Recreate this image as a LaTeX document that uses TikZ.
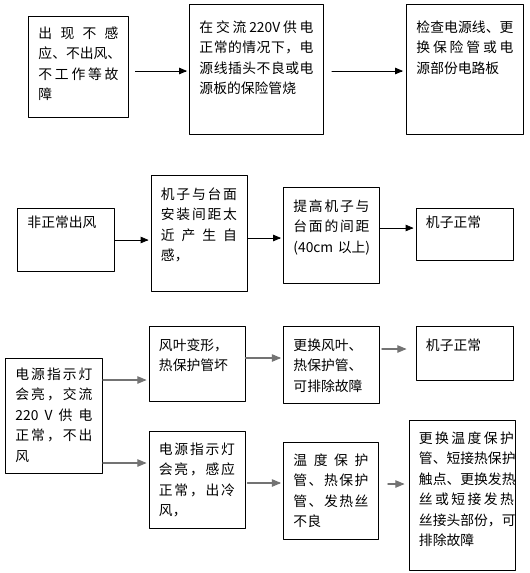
\documentclass[tikz,border=0pt]{standalone}
\usepackage{fontspec}
\newfontfamily\cjk{Noto Sans CJK SC}
\usepackage{tikz}
\usetikzlibrary{arrows}
\makeatletter
\newcommand\spreadline[2][\linewidth]{\leavevmode\hbox to #1{\@tfor\spreadch:=#2\do{\spreadch\hfil}\unskip}}
\makeatother
\tikzset{
  flowbox/.style={draw,line width=0.9pt,anchor=north west,align=left,inner xsep=10pt,inner ysep=0pt,
    font=\cjk\fontsize{13.8}{20.5}\selectfont},
  link/.style={->,line width=0.8pt,shorten >=2pt},
  greylink/.style={->,line width=1.1pt,color=black!55,shorten >=2pt}
}

\begin{document}
\begin{tikzpicture}[line cap=round,line join=round,>=triangle 45,x=1pt,y=-1pt]
        \useasboundingbox (0,0) rectangle (530,573);
        % row 1
        \node[flowbox,text width=80pt,text height=22pt,text depth=79pt] (a1) at (28,16)
          {\spreadline{出现不感}\\\spreadline{应、不出风、}\\\spreadline{不工作等故}\\障};
        \node[flowbox,text width=114pt,text height=28pt,text depth=102pt] (a2) at (189,4)
          {\spreadline{在交流{220V}供电}\\\spreadline{正常的情况下，电}\\\spreadline{源线插头不良或电}\\源板的保险管烧};
        \node[flowbox,text width=97pt,text height=28pt,text depth=102pt] (a3) at (406,4)
          {\spreadline{检查电源线、更}\\\spreadline{换保险管或电}\\源部份电路板};
        \draw[link,shorten <=6.5pt] (a1.east |- 0,71) -- (a2.west |- 0,71);
        \draw[link,shorten <=8pt,shorten >=3pt] (a2.east |- 0,71) -- (a3.west |- 0,71);
        % row 2
        \node[flowbox,text width=77pt,text height=20pt,text depth=43pt] (b1) at (17,207.5) {非正常出风};
        \node[flowbox,text width=76pt,text height=24pt,text depth=92pt] (b2) at (150.5,175)
          {\spreadline{机子与台面}\\\spreadline{安装间距太}\\\spreadline{近产生自}\\感，};
        \node[flowbox,text width=76pt,text height=24pt,text depth=72pt] (b3) at (283,187)
          {\spreadline{提高机子与}\\\spreadline{台面的间距}\\\mbox{(40cm 以上)}};
        \node[flowbox,text width=77pt,text height=20pt,text depth=32.5pt] (b4) at (415.5,207.5) {机子正常};
        \draw[link] (b1.east |- 0,240) -- (b2.west |- 0,240);
        \draw[link] (b2.east |- 0,238) -- (b3.west |- 0,238);
        \draw[link] (b3.east |- 0,228) -- (b4.west |- 0,228);
        % row 3
        \node[flowbox,text width=77pt,text height=21pt,text depth=94pt] (c1) at (5,358)
          {\spreadline{电源指示灯}\\\spreadline{会亮，交流}\\\spreadline{{220}V供电}\\\spreadline{正常，不出}\\风};
        \node[flowbox,text width=76pt,text height=24pt,text depth=50.5pt] (c2) at (148.5,326)
          {风叶变形，\\热保护管坏};
        \node[flowbox,text width=76pt,text height=24pt,text depth=53pt] (c3) at (283,326)
          {更换风叶、\\热保护管、\\可排除故障};
        \node[flowbox,text width=77pt,text height=24pt,text depth=29.5pt] (c4) at (415.5,326) {机子正常};
        \node[flowbox,text width=76pt,text height=23pt,text depth=74pt] (c5) at (148.5,431)
          {\spreadline{电源指示灯}\\\spreadline{会亮，感应}\\\spreadline{正常，出冷}\\风，};
        \node[flowbox,text width=75pt,text height=23pt,text depth=74pt] (c6) at (283,442)
          {\spreadline{温度保护}\\\spreadline{管、热保护}\\\spreadline{管、发热丝}\\不良};
        \node[flowbox,text width=86.5pt,text height=23pt,text depth=127pt] (c7) at (408.5,420)
          {\spreadline[95pt]{更换温度保护}\\\spreadline[95pt]{管、短接热保护}\\\spreadline[95pt]{触点、更换发热}\\
           \spreadline[95pt]{丝或短接发热}\\\spreadline[95pt]{丝接头部份，可}\\排除故障};
        \draw[greylink] (c1.east |- 0,380) -- (c2.west |- 0,380);
        \draw[greylink] (c2.east |- 0,358) -- (c3.west |- 0,358);
        \draw[greylink,shorten <=2pt,shorten >=9pt] (c3.east |- 0,349) -- (c4.west |- 0,349);
        \draw[greylink] (c1.east |- 0,463) -- (c5.west |- 0,463);
        \draw[greylink,shorten <=2pt] (c5.east |- 0,483) -- (c6.west |- 0,483);
        \draw[greylink,shorten <=9pt,shorten >=4pt] (c6.east |- 0,484) -- (c7.west |- 0,484);
\end{tikzpicture}
\end{document}
